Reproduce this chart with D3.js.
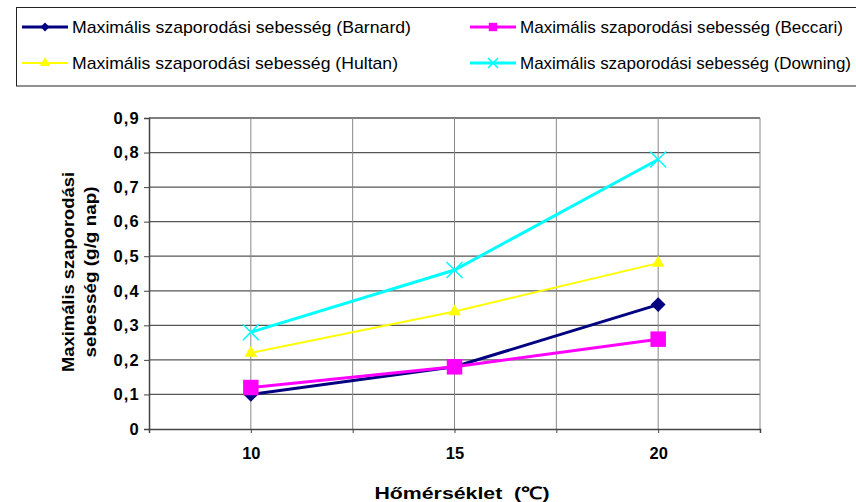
<!DOCTYPE html>
<html><head><meta charset="utf-8">
<script src="https://cdn.jsdelivr.net/npm/d3@7"></script>
<style>body{margin:0;background:#fff}svg{display:block;font-family:"Liberation Sans",Arial,sans-serif}</style>
</head><body>
<svg id="c" width="856" height="502"></svg>
<script>
const categories = [10, 15, 20];
const seriesNames = [
  "Maximális szaporodási sebesség (Barnard)",
  "Maximális szaporodási sebesség (Beccari)",
  "Maximális szaporodási sebesség (Hultan)",
  "Maximális szaporodási sebesség (Downing)"
];
const barnard = [0.10, 0.18, 0.36];
const beccari = [0.12, 0.18, 0.26];
const hultan  = [0.22, 0.34, 0.48];
const downing = [0.28, 0.46, 0.78];
const yTicks = [0, 0.1, 0.2, 0.3, 0.4, 0.5, 0.6, 0.7, 0.8, 0.9];
const xTicks = [7.5, 10, 12.5, 15, 17.5, 20, 22.5];
const xTickLabels = [10, 15, 20];
const yTitle = ["Maximális szaporodási", "sebesség (g/g nap)"];
const xTitle = "Hőmérséklet  (℃)";

const svg = d3.select("#c");
const x = d3.scaleLinear().domain([7.5, 22.5]).range([149, 760]);
const y = d3.scaleLinear().domain([0, 0.9]).range([429, 118]);

const styles = [
  {color: "#000080", width: 3, sym: "diamond", size: 110, lsize: 40},
  {color: "#FF00FF", width: 3, sym: d3.symbolSquare, size: 240, lsize: 70},
  {color: "#FFFF00", width: 2, sym: d3.symbolTriangle, size: 70, lsize: 45},
  {color: "#00FFFF", width: 3, sym: "x", size: 8, lsize: 5}
];
const data = [barnard, beccari, hultan, downing];

// gridlines
const g = svg.append("g");
g.selectAll(".hg").data(yTicks.filter(d => d > 0)).join("line")
  .attr("x1", x(7.5)).attr("x2", x(22.5)).attr("y1", d => y(d)).attr("y2", d => y(d))
  .attr("stroke", "#555").attr("stroke-width", 1.3);
g.selectAll(".vg").data(xTicks.filter(d => d > 7.5)).join("line")
  .attr("x1", d => x(d)).attr("x2", d => x(d)).attr("y1", y(0.9)).attr("y2", y(0))
  .attr("stroke", "#888").attr("stroke-width", 1);

// axes
const yAxis = d3.axisLeft(y).tickValues(yTicks).tickSize(5)
  .tickFormat(d => d3.format(".1f")(d).replace(".", ",").replace(/^0,0$/, "0"));
const ya = svg.append("g").attr("transform", `translate(${x(7.5)},0)`).call(yAxis);
ya.select(".domain").attr("stroke", "#444").attr("stroke-width", 1.5);
ya.selectAll(".tick line").attr("stroke", "#444");
ya.selectAll(".tick text").attr("font-size", 16.5).attr("font-weight", "bold")
  .attr("fill", "#000").attr("x", -9).attr("letter-spacing", 1.2).attr("font-family", "Liberation Sans, Arial, sans-serif");

const xAxis = d3.axisBottom(x).tickValues(xTicks).tickSize(4)
  .tickFormat(d => xTickLabels.includes(d) ? d : "");
const xa = svg.append("g").attr("transform", `translate(0,${y(0)})`).call(xAxis);
xa.select(".domain").attr("stroke", "#444").attr("stroke-width", 1.5);
xa.selectAll(".tick line").attr("stroke", "#444");
xa.selectAll(".tick text").attr("font-size", 16.5).attr("font-weight", "bold")
  .attr("fill", "#000").attr("dy", "1.4em").attr("font-family", "Liberation Sans, Arial, sans-serif");

// series
const line = d3.line().x((d, i) => x(categories[i])).y(d => y(d));
function drawMarker(sel, st, size) {
  if (st.sym === "x") {
    const p = `M${-size},${-size}L${size},${size}M${-size},${size}L${size},${-size}`;
    sel.append("path").attr("d", p).attr("stroke", st.color).attr("stroke-width", 1.6).attr("fill", "none");
  } else if (st.sym === "diamond") {
    sel.append("path").attr("d", d3.symbol().type(d3.symbolSquare).size(size))
      .attr("transform", "rotate(45)").attr("fill", st.color);
  } else {
    sel.append("path").attr("d", d3.symbol().type(st.sym).size(size)).attr("fill", st.color);
  }
}
data.forEach((vals, si) => {
  const st = styles[si];
  const sg = svg.append("g");
  sg.append("path").datum(vals).attr("d", line).attr("fill", "none")
    .attr("stroke", st.color).attr("stroke-width", st.width);
  vals.forEach((v, i) => {
    const mg = sg.append("g").attr("transform", `translate(${x(categories[i])},${y(v)})`);
    drawMarker(mg, st, st.size);
  });
});

// titles
const yt = svg.append("g").attr("font-weight", "bold").attr("font-size", 16).attr("fill", "#000");
const yLens = [200, 171];
yTitle.forEach((t, i) => {
  yt.append("text").attr("transform", `translate(${74 + i * 22},272) rotate(-90)`)
    .attr("text-anchor", "middle").attr("textLength", yLens[i]).attr("lengthAdjust", "spacingAndGlyphs").text(t);
});
svg.append("text").attr("x", 462).attr("y", 499).attr("text-anchor", "middle")
  .style("white-space", "pre")
  .attr("font-weight", "bold").attr("font-size", 17).attr("textLength", 175)
  .attr("lengthAdjust", "spacingAndGlyphs").text(xTitle);

// legend
const lg = svg.append("g");
lg.append("rect").attr("x", 16.5).attr("y", 7.5).attr("width", 860).attr("height", 78.5)
  .attr("fill", "#fff").attr("stroke", "#222").attr("stroke-width", 1);
const lx = [22, 470], ly = [27, 63];
const textLens = [339, 323, 326, 331];
seriesNames.forEach((name, i) => {
  const st = styles[i];
  const cx = lx[i % 2], cy = ly[Math.floor(i / 2)];
  const item = lg.append("g").attr("transform", `translate(${cx},${cy})`);
  item.append("line").attr("x1", 0).attr("x2", 46).attr("stroke", st.color).attr("stroke-width", st.width);
  const m = item.append("g").attr("transform", "translate(23,0)");
  drawMarker(m, st, st.lsize);
  item.append("text").attr("x", 50).attr("y", 6).attr("font-size", 17).attr("fill", "#000")
    .attr("textLength", textLens[i]).attr("lengthAdjust", "spacingAndGlyphs").text(name);
});
</script>
</body></html>
